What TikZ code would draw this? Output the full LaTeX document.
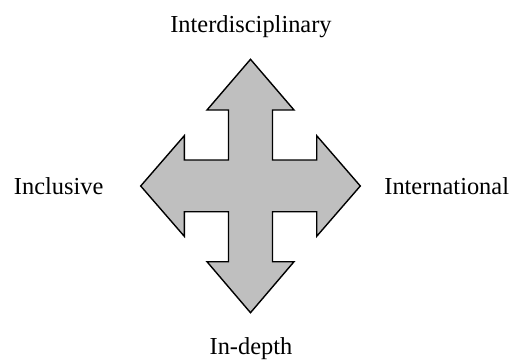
\documentclass[tikz,border=0pt]{standalone}
\usepackage{fontspec}
\setmainfont{Liberation Serif}
\begin{document}
\begin{tikzpicture}[x=1pt,y=-1pt,
  lbl/.style={anchor=base,inner sep=0pt,font=\fontsize{24.4}{29}\selectfont},
  arrowshape/.style={draw=black,fill=black!25!white,line width=1.4pt,line join=miter}]
\useasboundingbox (0,0) rectangle (509,359);
\draw[arrowshape] (250.5,59.3) -- (294,110) -- (272.5,110) -- (272.5,160) -- (316.7,160) -- (316.7,135.7)
  -- (360.3,186) -- (316.7,236.3) -- (316.7,211.7) -- (272.5,211.7) -- (272.5,261.7) -- (294,261.7)
  -- (250.5,312.7) -- (207,261.7) -- (228.5,261.7) -- (228.5,211.7) -- (184.3,211.7) -- (184.3,236.3)
  -- (140.7,186) -- (184.3,135.7) -- (184.3,160) -- (228.5,160) -- (228.5,110) -- (207,110) -- cycle;
\node[lbl] (top) at (251,32) {Interdisciplinary};
\node[lbl] (left) at (58.7,194.5) {Inclusive};
\node[lbl] (right) at (446.7,194.5) {International};
\node[lbl] (bottom) at (251,354) {In-depth};
\end{tikzpicture}
\end{document}
